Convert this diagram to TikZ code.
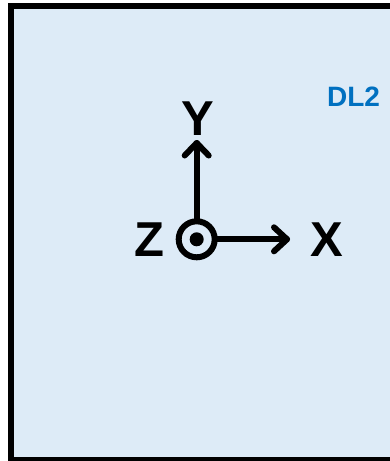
\documentclass[tikz,border=0pt]{standalone}
\usepackage{fontspec}
\setmainfont{Liberation Sans}
\definecolor{panelfill}{HTML}{DDEBF7}
\definecolor{dlblue}{HTML}{0070C0}
\begin{document}
\begin{tikzpicture}[x=1pt,y=-1pt,
  axislabel/.style={inner sep=0pt, anchor=base, font=\fontsize{49}{49}\selectfont\bfseries},
  axisline/.style={line width=6pt, line cap=round, line join=round},
  panelbox/.style={line width=6pt, fill=panelfill, draw=black}]
\useasboundingbox (0,0) rectangle (390,461);
\clip (0,0) rectangle (390,461);
\draw[panelbox] (11,6.3) rectangle (400,459.5);
% origin symbol (out of page)
\node[draw, circle, line width=6pt, minimum size=36pt, inner sep=0pt] (o) at (196.7,239.3) {};
\fill (o.center) circle (7);
\coordinate (ytip) at (196.7,143);
\coordinate (xtip) at (287,239.3);
\draw[axisline] (o.north) -- (ytip);
\draw[axisline] ([shift={(-12,12.5)}]ytip) -- (ytip) -- ([shift={(12,12.5)}]ytip);
\draw[axisline] (o.east) -- (xtip);
\draw[axisline] ([shift={(-13,-12)}]xtip) -- (xtip) -- ([shift={(-13,12)}]xtip);
\node[axislabel] (ylab) at (198,135) {Y};
\node[axislabel] (zlab) at (149,256.7) {Z};
\node[axislabel] (xlab) at (327,256.7) {X};
\node[inner sep=0pt, anchor=base, text=dlblue, font=\fontsize{28}{28}\selectfont\bfseries] (dl) at (353.5,106.7) {DL2};
\end{tikzpicture}
\end{document}
